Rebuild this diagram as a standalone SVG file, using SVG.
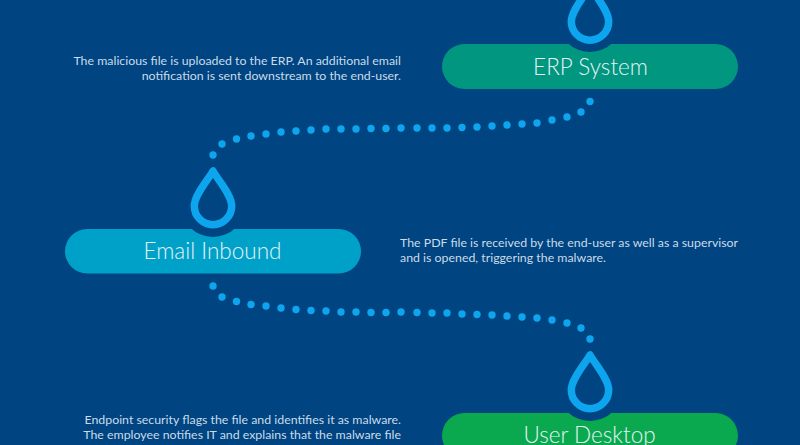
<svg xmlns="http://www.w3.org/2000/svg" width="800" height="445" viewBox="0 0 800 445">
<defs>
<style>
.pill-text{font-family:"Lato","Liberation Sans",sans-serif;font-weight:300;font-size:22.5px;fill:#e4f3f4;text-anchor:middle}
.note{font-family:"Lato","Liberation Sans",sans-serif;font-weight:400;font-size:12.35px;fill:#c9dcea}
.gap{fill:#004481}
.drop{fill:none;stroke:#0ca5ee;stroke-width:7.5;stroke-linejoin:round}
.dot{fill:#0ca5ee}
</style>
<path id="dropshape" d="M0 -35 C-5 -26 -18.7 -11 -18.7 0 A18.7 18.7 0 0 0 18.7 0 C18.7 -11 5 -26 0 -35Z"/>
<circle id="d" r="3.7"/>
</defs>
<rect width="800" height="445" fill="#004481"/>
<g id="connectors" class="dot">
<use href="#d" x="590" y="101.5"/><use href="#d" x="581" y="112"/><use href="#d" x="567" y="117"/><use href="#d" x="552" y="120"/><use href="#d" x="537" y="123"/><use href="#d" x="522" y="124"/><use href="#d" x="507" y="125"/><use href="#d" x="492" y="126"/><use href="#d" x="477" y="127"/><use href="#d" x="462" y="127.5"/><use href="#d" x="447" y="128"/><use href="#d" x="432" y="128"/><use href="#d" x="417" y="128"/><use href="#d" x="401" y="128"/><use href="#d" x="386" y="128.5"/><use href="#d" x="371" y="128.5"/><use href="#d" x="356" y="129"/><use href="#d" x="341" y="129"/><use href="#d" x="326" y="129"/><use href="#d" x="311" y="130"/><use href="#d" x="296" y="131"/><use href="#d" x="281" y="132"/><use href="#d" x="266" y="134"/><use href="#d" x="251" y="136"/><use href="#d" x="236.5" y="139"/><use href="#d" x="222" y="144"/><use href="#d" x="213" y="155"/>
<use href="#d" x="213" y="286"/><use href="#d" x="222" y="297"/><use href="#d" x="236.5" y="301.5"/><use href="#d" x="251" y="304.5"/><use href="#d" x="266" y="306"/><use href="#d" x="281" y="308"/><use href="#d" x="296" y="309.5"/><use href="#d" x="311" y="310.5"/><use href="#d" x="326" y="311"/><use href="#d" x="341" y="312"/><use href="#d" x="356" y="312"/><use href="#d" x="371" y="312.5"/><use href="#d" x="386" y="312.5"/><use href="#d" x="401" y="312"/><use href="#d" x="417" y="312.5"/><use href="#d" x="432" y="313"/><use href="#d" x="447" y="313"/><use href="#d" x="462" y="314"/><use href="#d" x="477" y="314.5"/><use href="#d" x="492" y="315"/><use href="#d" x="507" y="316"/><use href="#d" x="522" y="317"/><use href="#d" x="537" y="318"/><use href="#d" x="552" y="320"/><use href="#d" x="567" y="323"/><use href="#d" x="581" y="328"/><use href="#d" x="590" y="339"/>
</g>
<g id="erp-system">
<rect x="442" y="44" width="296" height="45" rx="22.5" fill="#00967f"/>
<circle class="gap" cx="590" cy="20" r="32"/>
<use href="#dropshape" class="drop" x="590" y="21.5"/>
<text class="pill-text" x="590.5" y="75">ERP System</text>
</g>
<g id="email-inbound">
<rect x="65" y="229" width="296" height="44.500" rx="22.250" fill="#00a1c9"/>
<circle class="gap" cx="213" cy="205" r="32"/>
<use href="#dropshape" class="drop" x="213" y="206"/>
<text class="pill-text" x="212.500" y="259">Email Inbound</text>
</g>
<g id="user-desktop">
<rect x="442" y="413" width="296" height="45" rx="22.5" fill="#0aa94f"/>
<circle class="gap" cx="590" cy="389" r="32"/>
<use href="#dropshape" class="drop" x="590" y="390"/>
<text class="pill-text" x="589.500" y="443">User Desktop</text>
</g>
<g id="notes">
<text class="note" text-anchor="end" x="401" y="65">The malicious file is uploaded to the ERP. An additional email</text>
<text class="note" text-anchor="end" x="401" y="80">notification is sent downstream to the end-user.</text>
<text class="note" x="400" y="247">The PDF file is received by the end-user as well as a supervisor</text>
<text class="note" x="400" y="262">and is opened, triggering the malware.</text>
<text class="note" text-anchor="end" x="401" y="424">Endpoint security flags the file and identifies it as malware.</text>
<text class="note" text-anchor="end" x="401" y="439">The employee notifies IT and explains that the malware file</text>
</g>
</svg>
